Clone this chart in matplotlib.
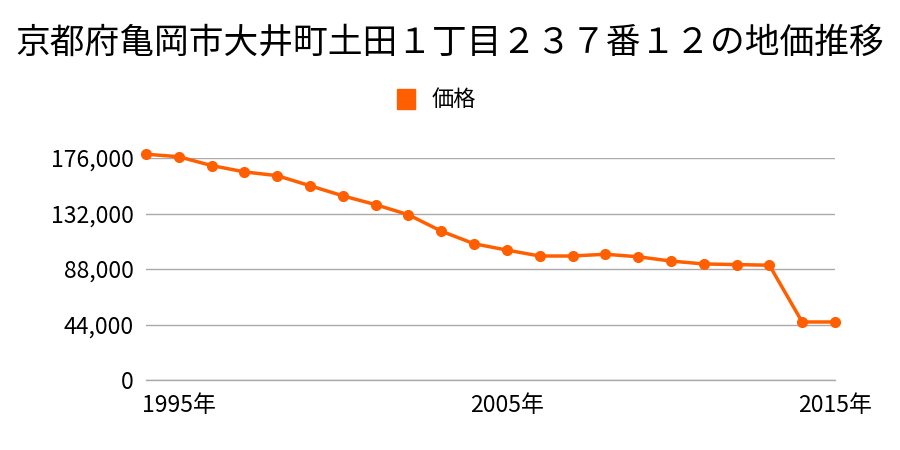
import matplotlib
matplotlib.use("Agg")
import matplotlib.pyplot as plt
from matplotlib.patches import Rectangle

plt.rcParams['font.family'] = ['Noto Sans CJK JP', 'DejaVu Sans']

years = list(range(1994, 2016))
prices = [179000, 177000, 170000, 165000, 162000, 154000, 146000, 139000,
          131000, 118000, 108000, 103000, 98300, 98300, 99700, 97700,
          94300, 92000, 91500, 91000, 46000, 46000]
yticks = [0, 44000, 88000, 132000, 176000]
xticks = [1995, 2005, 2015]
title = "京都府亀岡市大井町土田１丁目２３７番１２の地価推移"
series_name = "価格"
color = "#ff5f00"

fig = plt.figure(figsize=(9, 4.5), dpi=100)
ax = fig.add_axes([146 / 900, 1 - 380 / 450, (835 - 146) / 900, (380 - 158) / 450])

ax.plot(years, prices, color=color, lw=2.5, marker="o", ms=7, clip_on=False, zorder=3)

ax.set_xlim(1994, 2015)
ax.set_ylim(0, 176000)
ax.set_yticks(yticks)
ax.set_yticklabels(["{:,}".format(v) for v in yticks], fontsize=16.5)
ax.set_xticks(xticks)
ax.set_xticklabels(["{}年".format(v) for v in xticks], fontsize=16.5)
ax.tick_params(length=0, pad=9)
ax.tick_params(axis="x", pad=10)
ax.grid(axis="y", color="#aaaaaa", lw=1)
# bottom grid line would be half clipped at the axes edge
ax.axhline(0, color="#aaaaaa", lw=1, clip_on=False, zorder=1)
ax.set_axisbelow(True)
for s in ax.spines.values():
    s.set_visible(False)

fig.text(0.5, 1 - 43 / 450, title, ha="center", va="center", fontsize=25)
fig.patches.append(Rectangle((397 / 900, 1 - 109 / 450), 18 / 900, 20 / 450,
                             transform=fig.transFigure, color=color))
fig.text(432 / 900, 1 - 99 / 450, series_name, ha="left", va="center", fontsize=16)

fig.savefig("out.png")
